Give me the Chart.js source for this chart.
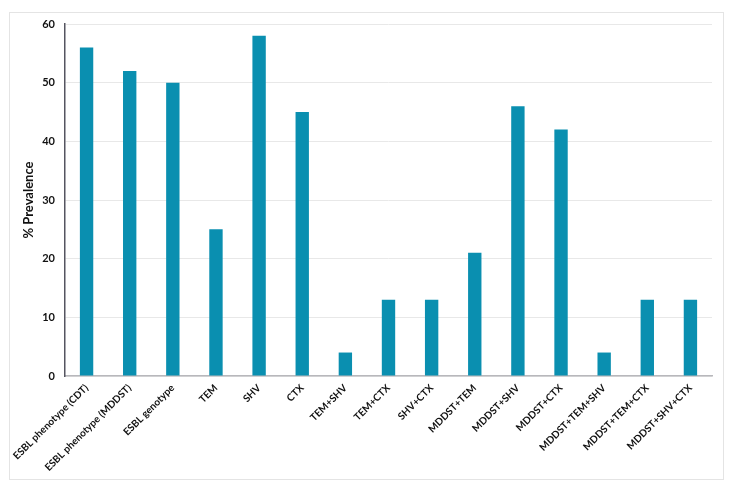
<!DOCTYPE html>
<html>
<head>
<meta charset="utf-8">
<script src="https://cdn.jsdelivr.net/npm/chart.js@4/dist/chart.umd.min.js"></script>
<style>
  body { margin: 0; background: #fff; }
  #frame { position: absolute; left: 9px; top: 12px; width: 713px; height: 466px; border: 1px solid #e4e4e4; }
  canvas { display: block; }
</style>
</head>
<body>
<div id="frame"><canvas id="chart" width="713" height="466"></canvas></div>
<script>
// categories and prevalence values
const categories = [
  'ESBL phenotype (CDT)', 'ESBL phenotype (MDDST)', 'ESBL genotype', 'TEM', 'SHV', 'CTX',
  'TEM+SHV', 'TEM+CTX', 'SHV+CTX', 'MDDST+TEM', 'MDDST+SHV', 'MDDST+CTX',
  'MDDST+TEM+SHV', 'MDDST+TEM+CTX', 'MDDST+SHV+CTX'
];
const prevalence = [56, 52, 50, 25, 58, 45, 4, 13, 13, 21, 46, 42, 4, 13, 13];
const yTicks = [0, 10, 20, 30, 40, 50, 60];

const font = "Lato, 'Open Sans', sans-serif";

new Chart(document.getElementById('chart'), {
  type: 'bar',
  data: {
    labels: categories,
    datasets: [{
      data: prevalence,
      backgroundColor: '#0a8fb0',
      borderWidth: 0,
      categoryPercentage: 1,
      barPercentage: 0.31
    }]
  },
  options: {
    responsive: false,
    animation: false,
    layout: { padding: { top: 0, right: 11, left: 11, bottom: 3 } },
    plugins: { legend: { display: false }, tooltip: { enabled: false } },
    scales: {
      x: {
        grid: { display: false, drawTicks: false },
        border: { color: '#b8b8bc', width: 1.5 },
        ticks: {
          color: '#111',
          font: { family: font, size: 10, weight: 'bold' },
          minRotation: 45, maxRotation: 45, padding: 6, autoSkip: false
        },
        // rotated labels would otherwise push the plot right
        afterFit: axis => { axis.paddingLeft = 0; axis.paddingRight = 0; axis.height = 100; }
      },
      y: {
        min: 0, max: 60,
        afterBuildTicks: axis => { axis.ticks = yTicks.map(v => ({ value: v })); },
        grid: { color: '#e8e8e8', drawTicks: false },
        border: { color: '#555560', width: 1.5 },
        ticks: {
          color: '#111',
          font: { family: font, size: 11, weight: 'bold' },
          padding: 10
        },
        title: {
          display: true, text: '% Prevalence', color: '#111',
          font: { family: font, size: 13, weight: 'bold' }, padding: { top: 0, bottom: 9 }
        },
        afterFit: axis => { axis.width = 44; axis.paddingTop = 11; axis.paddingBottom = 0; }
      }
    }
  }
});
</script>
</body>
</html>
